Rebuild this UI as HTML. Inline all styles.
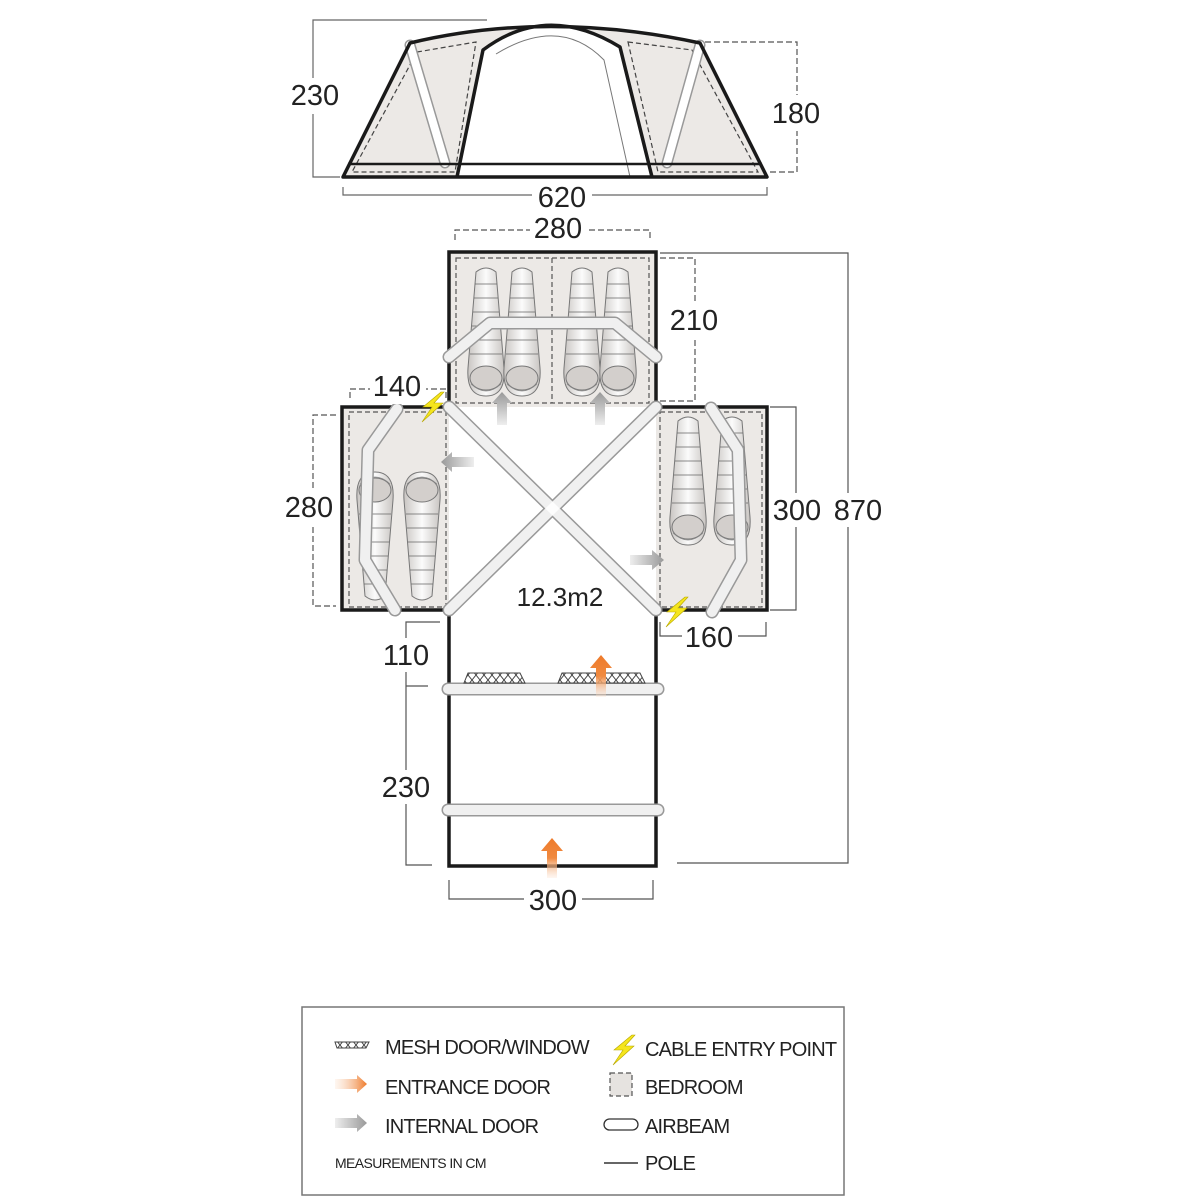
<!DOCTYPE html>
<html><head><meta charset="utf-8">
<style>
html,body{margin:0;padding:0;background:#fff;}
svg{display:block;}
text{font-family:"Liberation Sans",sans-serif;fill:#222;}
.dim{font-size:29px;text-anchor:middle;}
.lg{font-size:20px;letter-spacing:-0.8px;}
</style></head>
<body>
<svg width="1200" height="1200" viewBox="0 0 1200 1200" xmlns="http://www.w3.org/2000/svg">
<defs>
 <linearGradient id="bagG" x1="0" x2="1" y1="0" y2="0">
  <stop offset="0" stop-color="#c9c5c2"/><stop offset="0.5" stop-color="#fbfbfb"/><stop offset="1" stop-color="#c9c5c2"/>
 </linearGradient>
 <linearGradient id="orG" x1="0" x2="0" y1="0" y2="1">
  <stop offset="0" stop-color="#ee7a2a"/><stop offset="0.5" stop-color="#f08a40"/><stop offset="1" stop-color="#fbe2cf" stop-opacity="0.3"/>
 </linearGradient>
 <linearGradient id="orH" x1="1" x2="0" y1="0" y2="0">
  <stop offset="0" stop-color="#ee7a2a"/><stop offset="1" stop-color="#fbe2cf" stop-opacity="0.3"/>
 </linearGradient>
 <linearGradient id="grV" x1="0" x2="0" y1="0" y2="1">
  <stop offset="0" stop-color="#999"/><stop offset="1" stop-color="#eee"/>
 </linearGradient>
 <linearGradient id="grH" x1="1" x2="0" y1="0" y2="0">
  <stop offset="0" stop-color="#999"/><stop offset="1" stop-color="#eee"/>
 </linearGradient>
 <linearGradient id="grHL" x1="0" x2="1" y1="0" y2="0">
  <stop offset="0" stop-color="#999"/><stop offset="1" stop-color="#eee"/>
 </linearGradient>
 <pattern id="mesh" width="8" height="10" patternUnits="userSpaceOnUse">
  <path d="M0,0 L8,10 M8,0 L0,10" stroke="#444" stroke-width="1"/>
 </pattern>
 <g id="bag">
  <path d="M8,4 Q18,-4 28,4 L36,100 Q38,128 18,128 Q-2,128 0,100 Z" fill="url(#bagG)" stroke="#777" stroke-width="1"/>
  <g stroke="#666" stroke-width="0.8">
   <line x1="7" y1="16" x2="29" y2="16"/><line x1="6" y1="30" x2="30" y2="30"/>
   <line x1="5" y1="44" x2="31" y2="44"/><line x1="4" y1="58" x2="32" y2="58"/>
   <line x1="3" y1="72" x2="33" y2="72"/><line x1="2" y1="86" x2="34" y2="86"/>
  </g>
  <ellipse cx="18" cy="110" rx="16" ry="12" fill="#d3cfcc" stroke="#777" stroke-width="1"/>
  <path d="M3,116 Q18,130 33,116" fill="none" stroke="#888" stroke-width="0.8"/>
 </g>
 <path id="bolt" d="M10,0 L-8,15 L1,15 L-9,30 L12,11 L3,11 L13,0 Z" fill="#f5e51d" stroke="#b8a800" stroke-width="0.6"/>
</defs>

<!-- ===== ELEVATION ===== -->
<path d="M343,177 L410,43 Q547,10 700,43 L767,177 Z" fill="#ece9e6"/>
<path d="M457,177 L483,50 Q547,2 620,47 L652,177 Z" fill="#fff"/>
<rect x="457" y="163" width="195" height="14" fill="#fff"/>
<path d="M417,52 L476,42 L455,172 L352,172 Z" fill="none" stroke="#444" stroke-width="1.2" stroke-dasharray="5,3"/>
<path d="M628,42 L692,50 L758,172 L658,172 Z" fill="none" stroke="#444" stroke-width="1.2" stroke-dasharray="5,3"/>
<path d="M496,54 Q560,15 604,60 L630,177" fill="none" stroke="#777" stroke-width="1"/>
<line x1="410" y1="45" x2="445" y2="163" stroke="#999" stroke-width="11" stroke-linecap="round"/>
<line x1="410" y1="45" x2="445" y2="163" stroke="#fff" stroke-width="8" stroke-linecap="round"/>
<line x1="700" y1="45" x2="667" y2="163" stroke="#999" stroke-width="11" stroke-linecap="round"/>
<line x1="700" y1="45" x2="667" y2="163" stroke="#fff" stroke-width="8" stroke-linecap="round"/>
<path d="M343,177 L410,43 Q547,10 700,43 L767,177 Z" fill="none" stroke="#1a1a1a" stroke-width="3.5" stroke-linejoin="round"/>
<path d="M457,177 L483,50 Q547,2 620,47 L652,177" fill="none" stroke="#1a1a1a" stroke-width="3.5" stroke-linejoin="round"/>
<line x1="348" y1="164" x2="762" y2="164" stroke="#1a1a1a" stroke-width="2.5"/>
<path d="M487,20 L313,20 L313,177 L340,177" fill="none" stroke="#666" stroke-width="1.2"/>
<rect x="287" y="78" width="56" height="36" fill="#fff"/>
<text class="dim" x="315" y="105">230</text>
<path d="M705,42 L797,42 L797,172 L770,172" fill="none" stroke="#555" stroke-width="1.2" stroke-dasharray="6,3"/>
<rect x="770" y="95" width="56" height="36" fill="#fff"/>
<text class="dim" x="796" y="123">180</text>
<path d="M343,187 L343,195 L767,195 L767,187" fill="none" stroke="#666" stroke-width="1.2"/>
<rect x="532" y="180" width="60" height="32" fill="#fff"/>
<text class="dim" x="562" y="207">620</text>

<!-- ===== FLOOR PLAN ===== -->
<rect x="449" y="252" width="207" height="155" fill="#ece9e6"/>
<rect x="342" y="407" width="107" height="203" fill="#ece9e6"/>
<rect x="656" y="407" width="111" height="203" fill="#ece9e6"/>
<g fill="none" stroke="#555" stroke-width="1.2" stroke-dasharray="5,3">
 <rect x="456" y="258" width="193" height="145"/>
 <line x1="552" y1="258" x2="552" y2="403"/>
 <rect x="349" y="412" width="97" height="195"/>
 <rect x="660" y="412" width="102" height="195"/>
</g>
<use href="#bag" x="468" y="268"/>
<use href="#bag" x="504" y="268"/>
<use href="#bag" x="564" y="268"/>
<use href="#bag" x="600" y="268"/>
<use href="#bag" transform="translate(393,600) rotate(180)"/>
<use href="#bag" transform="translate(440,600) rotate(180)"/>
<use href="#bag" x="670" y="417"/>
<use href="#bag" x="714" y="417"/>
<g fill="none" stroke="#1a1a1a" stroke-width="3.5" stroke-linejoin="miter">
 <path d="M449,407 L449,252 L656,252 L656,407"/>
 <path d="M449,407 L342,407 L342,610 L449,610"/>
 <path d="M656,407 L767,407 L767,610 L656,610"/>
 <path d="M449,610 L449,866 L656,866 L656,610"/>
</g>
<g fill="none" stroke-linecap="round" stroke-linejoin="round">
 <g stroke="#999" stroke-width="13">
  <line x1="449" y1="407" x2="656" y2="610"/>
  <line x1="656" y1="407" x2="449" y2="610"/>
  <polyline points="449,357 490,323 615,323 656,357"/>
  <polyline points="397,409 368,450 365,560 395,610"/>
  <polyline points="711,408 738,450 741,560 712,612"/>
  <line x1="448" y1="689" x2="658" y2="689"/>
  <line x1="448" y1="810" x2="658" y2="810"/>
 </g>
 <g stroke="#fff" stroke-width="10" stroke-opacity="0.85">
  <line x1="449" y1="407" x2="656" y2="610"/>
  <line x1="656" y1="407" x2="449" y2="610"/>
  <polyline points="449,357 490,323 615,323 656,357"/>
  <polyline points="397,409 368,450 365,560 395,610"/>
  <polyline points="711,408 738,450 741,560 712,612"/>
  <line x1="448" y1="689" x2="658" y2="689"/>
  <line x1="448" y1="810" x2="658" y2="810"/>
 </g>
</g>
<path d="M468,673 L520,673 L525,683 L464,683 Z" fill="url(#mesh)" stroke="#444" stroke-width="1"/>
<path d="M562,673 L640,673 L645,683 L558,683 Z" fill="url(#mesh)" stroke="#444" stroke-width="1"/>
<path d="M497,425 L497,403 L492,403 L502,392 L512,403 L507,403 L507,425 Z" fill="url(#grV)"/>
<path d="M595,425 L595,403 L590,403 L600,392 L610,403 L605,403 L605,425 Z" fill="url(#grV)"/>
<path d="M474,457 L452,457 L452,452 L441,462 L452,472 L452,467 L474,467 Z" fill="url(#grHL)"/>
<path d="M630,555 L652,555 L652,550 L664,560 L652,570 L652,565 L630,565 Z" fill="url(#grH)"/>
<path d="M596,697 L596,668 L590,668 L601,655 L612,668 L606,668 L606,697 Z" fill="url(#orG)"/>
<path d="M547,878 L547,851 L541,851 L552,838 L563,851 L557,851 L557,878 Z" fill="url(#orG)"/>
<use href="#bolt" x="431" y="392"/>
<use href="#bolt" x="675" y="597"/>
<text x="560" y="606" style="font-size:26px;text-anchor:middle">12.3m2</text>

<g fill="none" stroke="#555" stroke-width="1.2">
 <path d="M455,240 L455,230 L650,230 L650,240" stroke-dasharray="6,3"/>
 <path d="M660,258 L695,258 L695,401 L660,401" stroke-dasharray="6,3"/>
 <path d="M350,398 L350,389 L446,389 L446,398" stroke-dasharray="6,3"/>
 <path d="M336,415 L313,415 L313,606 L336,606" stroke-dasharray="6,3"/>
 <path d="M660,253 L848,253 L848,863 L677,863"/>
 <path d="M770,407 L796,407 L796,610 L770,610"/>
 <path d="M660,622 L660,636 L766,636 L766,622"/>
 <path d="M440,622 L406,622 L406,865 L432,865"/>
 <line x1="406" y1="686" x2="428" y2="686"/>
 <path d="M449,880 L449,899 L653,899 L653,880"/>
</g>
<g>
 <rect x="530" y="212" width="56" height="34" fill="#fff"/><text class="dim" x="558" y="238">280</text>
 <rect x="668" y="303" width="54" height="34" fill="#fff"/><text class="dim" x="694" y="330">210</text>
 <rect x="370" y="370" width="56" height="34" fill="#fff"/><text class="dim" x="397" y="396">140</text>
 <rect x="282" y="490" width="56" height="34" fill="#fff"/><text class="dim" x="309" y="517">280</text>
 <rect x="770" y="493" width="54" height="34" fill="#fff"/><text class="dim" x="797" y="520">300</text>
 <rect x="831" y="493" width="56" height="34" fill="#fff"/><text class="dim" x="858" y="520">870</text>
 <rect x="682" y="620" width="56" height="34" fill="#fff"/><text class="dim" x="709" y="647">160</text>
 <rect x="378" y="638" width="56" height="34" fill="#fff"/><text class="dim" x="406" y="665">110</text>
 <rect x="378" y="770" width="56" height="34" fill="#fff"/><text class="dim" x="406" y="797">230</text>
 <rect x="524" y="883" width="58" height="34" fill="#fff"/><text class="dim" x="553" y="910">300</text>
</g>

<!-- ===== LEGEND ===== -->
<rect x="302" y="1007" width="542" height="188" fill="#fff" stroke="#777" stroke-width="1.5"/>
<path d="M337,1048 L366,1048 L369,1042 L335,1042 Z" fill="url(#mesh)" stroke="#444" stroke-width="1"/>
<text class="lg" x="385" y="1054">MESH DOOR/WINDOW</text>
<path d="M335,1079 L357,1079 L357,1075 L367,1084 L357,1093 L357,1089 L335,1089 Z" fill="url(#orH)"/>
<text class="lg" x="385" y="1094">ENTRANCE DOOR</text>
<path d="M335,1118 L357,1118 L357,1114 L367,1123 L357,1132 L357,1128 L335,1128 Z" fill="url(#grH)"/>
<text class="lg" x="385" y="1133">INTERNAL DOOR</text>
<text x="335" y="1168" style="font-size:14px;letter-spacing:-0.6px">MEASUREMENTS IN CM</text>
<use href="#bolt" x="622" y="1035"/>
<text class="lg" x="645" y="1056">CABLE ENTRY POINT</text>
<rect x="610" y="1073" width="22" height="23" fill="#e6e3e0" stroke="#555" stroke-width="1.2" stroke-dasharray="5,3"/>
<text class="lg" x="645" y="1094">BEDROOM</text>
<rect x="604" y="1119" width="34" height="11" rx="5.5" fill="#fff" stroke="#333" stroke-width="1.3"/>
<text class="lg" x="645" y="1133">AIRBEAM</text>
<line x1="604" y1="1163" x2="638" y2="1163" stroke="#333" stroke-width="1.5"/>
<text class="lg" x="645" y="1170">POLE</text>
</svg>
</body></html>
